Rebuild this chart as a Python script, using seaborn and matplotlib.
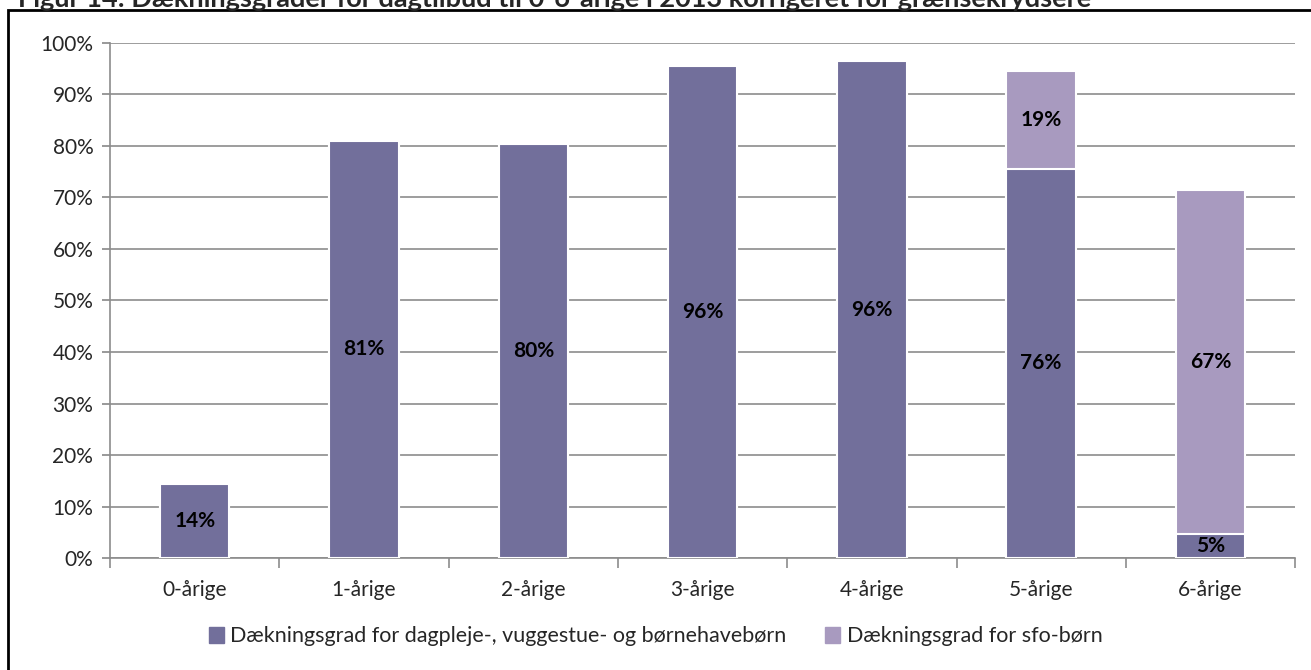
import matplotlib
import pandas as pd
import seaborn as sns
import matplotlib.pyplot as plt
from matplotlib.patches import Rectangle
from matplotlib.ticker import PercentFormatter

sns.set_theme(style='white')
matplotlib.rcParams['font.family'] = ['Lato', 'DejaVu Sans']

# data (%)
categories = ['0-årige', '1-årige', '2-årige', '3-årige', '4-årige', '5-årige', '6-årige']
dagtilbud = [14.3, 81.0, 80.3, 95.6, 96.4, 75.6, 4.7]
sfo = [0, 0, 0, 0, 0, 18.9, 66.7]
labels_dag = ['14%', '81%', '80%', '96%', '96%', '76%', '5%']
labels_sfo = ['', '', '', '', '', '19%', '67%']

name_dag = 'Dækningsgrad for dagpleje-, vuggestue- og børnehavebørn'
name_sfo = 'Dækningsgrad for sfo-børn'
title = 'Figur 14: Dækningsgrader for dagtilbud til 0-6-årige i 2013 korrigeret for grænsekrydsere'

col_dag = '#726f9b'
col_sfo = '#a89abf'

df = pd.DataFrame({'alder': categories, 'dag': dagtilbud, 'sfo': sfo})
df['total'] = df['dag'] + df['sfo']

fig = plt.figure(figsize=(13.11, 6.70), dpi=100)
ax = fig.add_axes([0.0839, 0.167, 0.904, 0.769])

# stacked: total in light colour, dagtilbud drawn on top
sns.barplot(data=df, x='alder', y='total', color=col_sfo, width=0.41,
            edgecolor='white', linewidth=1.5, saturation=1, ax=ax, zorder=3)
sns.barplot(data=df, x='alder', y='dag', color=col_dag, width=0.41,
            edgecolor='white', linewidth=1.5, saturation=1, ax=ax, zorder=4)

for i in range(len(categories)):
    ax.text(i, dagtilbud[i] / 2, labels_dag[i], ha='center', va='center',
            fontsize=15, fontweight='bold', color='black', zorder=5)
    if labels_sfo[i]:
        ax.text(i, dagtilbud[i] + sfo[i] / 2, labels_sfo[i], ha='center', va='center',
                fontsize=15, fontweight='bold', color='black', zorder=5)

ax.set_ylim(0, 100)
ax.set_xlim(-0.5, len(categories) - 0.5)
ax.set_yticks(range(0, 101, 10))
ax.yaxis.set_major_formatter(PercentFormatter(decimals=0))
ax.yaxis.grid(True, color='#8c8c8c', linewidth=1.2)
ax.set_axisbelow(True)
ax.set_xlabel('')
ax.set_ylabel('')

for s in ['top', 'right']:
    ax.spines[s].set_visible(False)
for s in ['left', 'bottom']:
    ax.spines[s].set_color('#8c8c8c')
    ax.spines[s].set_linewidth(1.2)

ax.tick_params(axis='y', left=True, length=6, color='#8c8c8c', labelsize=15, pad=6)
ax.tick_params(axis='x', bottom=False, labelsize=15, pad=10)
ax.set_xticks([i - 0.5 for i in range(len(categories) + 1)], minor=True)
ax.tick_params(axis='x', which='minor', bottom=True, length=7, color='#8c8c8c', width=1.2)

handles = [Rectangle((0, 0), 1, 1, color=col_dag), Rectangle((0, 0), 1, 1, color=col_sfo)]
fig.legend(handles, [name_dag, name_sfo], loc='center', bbox_to_anchor=(0.5, 0.05),
           ncol=2, frameon=False, fontsize=15.5, handlelength=0.7, handleheight=0.7,
           handletextpad=0.3, columnspacing=1.8)

# outer frame
fig.patches.append(Rectangle((8 / 1311, -0.01), 1.0, 1 - 10 / 670 + 0.01,
                             transform=fig.transFigure, fill=False,
                             edgecolor='black', linewidth=2))
# title sits partly above the top edge, as in the source
fig.text(18 / 1311, 1 - 7 / 670, title, ha='left', va='baseline',
         fontsize=19.5, fontweight='bold')

fig.savefig('out.png', dpi=100)
